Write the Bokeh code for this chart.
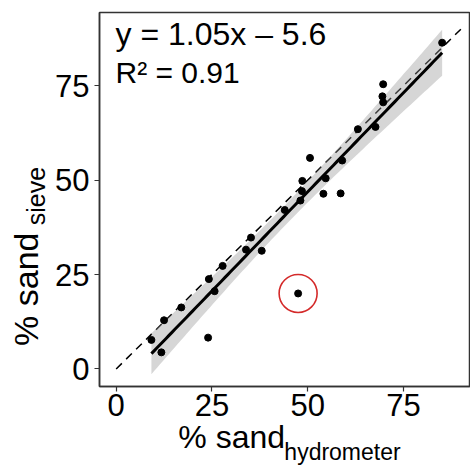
import numpy as np
from bokeh.plotting import figure
from bokeh.models import Range1d, Label, FixedTicker, LinearAxis
from bokeh.embed import file_html
from bokeh.resources import INLINE

# data
sand_hydrometer = [9.2, 11.8, 12.5, 17.0, 24.0, 24.2, 25.7, 27.8, 33.9, 35.2, 38.0,
                   44.0, 47.5, 48.1, 48.5, 48.6, 50.6, 54.1, 54.7, 58.6, 59.0,
                   63.1, 67.7, 69.5, 69.7, 69.7, 85.1]
sand_sieve = [7.7, 4.4, 12.9, 16.3, 8.3, 23.8, 20.6, 27.3, 31.6, 34.8, 31.3,
              42.1, 20.0, 44.6, 47.1, 49.8, 55.9, 46.4, 50.5, 46.5, 55.2,
              63.5, 64.1, 72.2, 70.6, 75.4, 86.4]
outlier_index = 12
slope = 1.05
intercept = -5.6
r_squared = 0.91
ticks = [0, 25, 50, 75]
one_to_one = [0, 90]
x_title, x_sub = "% sand", "hydrometer"
y_title, y_sub = "% sand", "sieve"

x = np.array(sand_hydrometer)
y = np.array(sand_sieve)
n = len(x)

# confidence band of the fitted line
res = y - (slope * x + intercept)
s = np.sqrt(np.sum(res ** 2) / (n - 2))
t_crit = 2.06
xg = np.linspace(x.min(), x.max(), 100)
yg = slope * xg + intercept
se = s * np.sqrt(1.0 / n + (xg - x.mean()) ** 2 / np.sum((x - x.mean()) ** 2))
lower = yg - t_crit * se
upper = yg + t_crit * se

FONT = "Liberation Sans"
NB = "\u00a0"

p = figure(width=470, height=467, output_backend="svg", toolbar_location=None,
           x_range=Range1d(-4.35, 92.5), y_range=Range1d(-4.64, 94.4),
           min_border_left=99, min_border_right=0, min_border_top=12,
           min_border_bottom=77)
p.background_fill_color = "white"
p.border_fill_color = "white"
p.outline_line_color = "#333333"
p.outline_line_width = 1.5
p.xgrid.visible = False
p.ygrid.visible = False

for ax in (p.xaxis, p.yaxis):
    ax.ticker = FixedTicker(ticks=ticks)
    ax.minor_tick_line_color = None
    ax.axis_line_color = "#333333"
    ax.axis_line_width = 1.5
    ax.major_tick_line_color = "#333333"
    ax.major_tick_line_width = 1.2
    ax.major_tick_in = 0
    ax.major_tick_out = 5
    ax.major_label_text_font = FONT
    ax.major_label_text_font_size = "31px"
    ax.major_label_text_color = "black"
p.xaxis.major_label_standoff = 2
p.yaxis.major_label_standoff = 5


def title_axis(label, size, standoff):
    a = LinearAxis(ticker=FixedTicker(ticks=[]), axis_label=label)
    a.axis_line_color = None
    a.major_tick_line_color = None
    a.minor_tick_line_color = None
    a.major_tick_out = 0
    a.major_tick_in = 0
    a.major_label_standoff = 0
    a.major_label_text_font_size = "0px"
    a.axis_label_text_font = FONT
    a.axis_label_text_font_size = size
    a.axis_label_text_font_style = "normal"
    a.axis_label_text_color = "black"
    a.axis_label_standoff = standoff
    return a


# x title: "% sand" with subscript "hydrometer" (padding shifts the centred texts)
p.add_layout(title_axis(NB * 18 + x_sub, "23px", 20), "below")
p.add_layout(title_axis(x_title + NB * 12, "32px", -49), "below")
# y title: "% sand" with subscript "sieve"
p.add_layout(title_axis(NB + y_sub, "25px", 3), "left")
p.add_layout(title_axis(y_title + NB * 19, "34px", -26), "left")

# 1:1 line
p.line(one_to_one, one_to_one, line_color="black", line_width=1.5, line_dash="8 6")
# confidence band and fitted line
p.varea(x=xg, y1=lower, y2=upper, fill_color="#999999", fill_alpha=0.4)
p.line(xg, yg, line_color="black", line_width=3)
# points
p.scatter(x, y, size=7, color="black")
# highlighted outlier
p.scatter([x[outlier_index]], [y[outlier_index]], size=38, fill_color=None,
          line_color="#d42a2a", line_width=1.6)

# equation text
p.add_layout(Label(x=16, y=335, x_units="screen", y_units="screen",
                   text=f"y = {slope:.2f}x \u2013 {abs(intercept):.1f}",
                   text_font=FONT, text_font_size="32px", text_color="black"))
p.add_layout(Label(x=16, y=298, x_units="screen", y_units="screen",
                   text=f"R\u00b2 = {r_squared:.2f}",
                   text_font=FONT, text_font_size="30px", text_color="black"))

open("out.html", "w").write(file_html(p, INLINE))
